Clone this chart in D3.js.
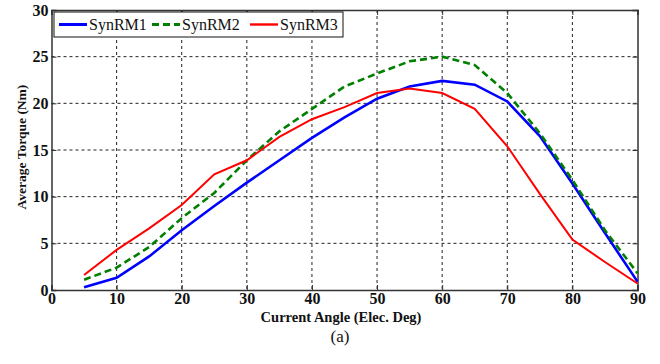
<!DOCTYPE html>
<html>
<head>
<meta charset="utf-8">
<style>
  body { margin: 0; background: #fff; }
  svg text { font-family: "Liberation Serif", "DejaVu Serif", serif; }
</style>
</head>
<body>
<script src="https://cdn.jsdelivr.net/npm/d3@7"></script>
<script>
// data
var angles = [5, 10, 15, 20, 25, 30, 35, 40, 45, 50, 55, 60, 65, 70, 75, 80, 85, 90];
var synrm1 = [0.3, 1.3, 3.6, 6.4, 9.0, 11.5, 13.9, 16.3, 18.5, 20.5, 21.8, 22.4, 22.0, 20.2, 16.5, 11.4, 6.1, 0.9];
var synrm2 = [1.1, 2.4, 4.6, 7.7, 10.4, 13.9, 17.0, 19.4, 21.8, 23.2, 24.5, 25.0, 24.1, 21.1, 16.8, 11.8, 6.4, 1.8];
var synrm3 = [1.6, 4.3, 6.6, 9.1, 12.4, 13.9, 16.4, 18.3, 19.6, 21.1, 21.6, 21.1, 19.4, 15.4, 10.3, 5.4, 3.0, 0.7];
var seriesNames = ["SynRM1", "SynRM2", "SynRM3"];
var xTicks = [0, 10, 20, 30, 40, 50, 60, 70, 80, 90];
var yTicks = [0, 5, 10, 15, 20, 25, 30];

var W = 660, H = 364;
var pLeft = 51.5, pRight = 637.5, pTop = 10, pBottom = 290;

var svg = d3.select("body").append("svg").attr("width", W).attr("height", H);

var x = d3.scaleLinear().domain([0, 90]).range([pLeft, pRight]);
var y = d3.scaleLinear().domain([0, 30]).range([pBottom, pTop]);

// grid
var grid = svg.append("g").attr("stroke", "#222").attr("stroke-width", 1).attr("stroke-dasharray", "3,3");
grid.selectAll("line.gx").data(xTicks.slice(1, -1)).enter().append("line")
  .attr("x1", d => x(d)).attr("x2", d => x(d)).attr("y1", pTop).attr("y2", pBottom);
grid.selectAll("line.gy").data(yTicks.slice(1, -1)).enter().append("line")
  .attr("y1", d => y(d)).attr("y2", d => y(d)).attr("x1", pLeft).attr("x2", pRight);

// axes
var xAx = svg.append("g").attr("transform", "translate(0," + pBottom + ")")
  .call(d3.axisBottom(x).tickValues(xTicks).tickSize(-5).tickPadding(3));
var xTop = svg.append("g").attr("transform", "translate(0," + pTop + ")")
  .call(d3.axisTop(x).tickValues(xTicks).tickSize(-5).tickFormat(""));
var yAx = svg.append("g").attr("transform", "translate(" + pLeft + ",0)")
  .call(d3.axisLeft(y).tickValues(yTicks).tickSize(-5).tickPadding(3));
var yRight = svg.append("g").attr("transform", "translate(" + pRight + ",0)")
  .call(d3.axisRight(y).tickValues(yTicks).tickSize(-5).tickFormat(""));
[xAx, xTop, yAx, yRight].forEach(function(g) {
  g.attr("font-family", null);
  g.selectAll("path.domain").attr("stroke", "#333").attr("stroke-width", 1.5);
  g.selectAll(".tick line").attr("stroke", "#333");
  g.selectAll(".tick text").attr("fill", "#111")
    .style("font-size", "16px").style("font-weight", "bold");
});

// lines
var line = d3.line().x((d, i) => x(angles[i])).y(d => y(d));
var styles = [
  {data: synrm1, color: "#0000ff", width: 2.6, dash: null},
  {data: synrm2, color: "#007f00", width: 2.6, dash: "7,4"},
  {data: synrm3, color: "#ff0000", width: 2.0, dash: null}
];
styles.forEach(function(s) {
  svg.append("path").datum(s.data)
    .attr("fill", "none").attr("stroke", s.color).attr("stroke-width", s.width)
    .attr("stroke-dasharray", s.dash).attr("d", line);
});

// legend
var leg = svg.append("g");
leg.append("rect").attr("x", 54).attr("y", 12).attr("width", 289).attr("height", 25)
  .attr("fill", "#fff").attr("stroke", "#111").attr("stroke-width", 1);
var legX = [59, 152, 250];
styles.forEach(function(s, i) {
  leg.append("line").attr("x1", legX[i]).attr("x2", legX[i] + 28).attr("y1", 24.5).attr("y2", 24.5)
    .attr("stroke", s.color).attr("stroke-width", s.width + 0.4).attr("stroke-dasharray", s.dash);
  leg.append("text").attr("x", legX[i] + 30).attr("y", 30).attr("font-size", 16).attr("fill", "#111")
    .text(seriesNames[i]);
});

// titles
svg.append("text").attr("x", 341).attr("y", 322).attr("text-anchor", "middle")
  .attr("font-size", 14.5).attr("font-weight", "bold").attr("fill", "#111").text("Current Angle (Elec. Deg)");
svg.append("text").attr("transform", "translate(26,147) rotate(-90)")
  .attr("text-anchor", "middle").attr("font-size", 13.5).attr("font-weight", "bold").attr("fill", "#111")
  .text("Average Torque (Nm)");
svg.append("text").attr("x", 340).attr("y", 342).attr("text-anchor", "middle")
  .attr("font-size", 17).attr("fill", "#111").text("(a)");
</script>
</body>
</html>
